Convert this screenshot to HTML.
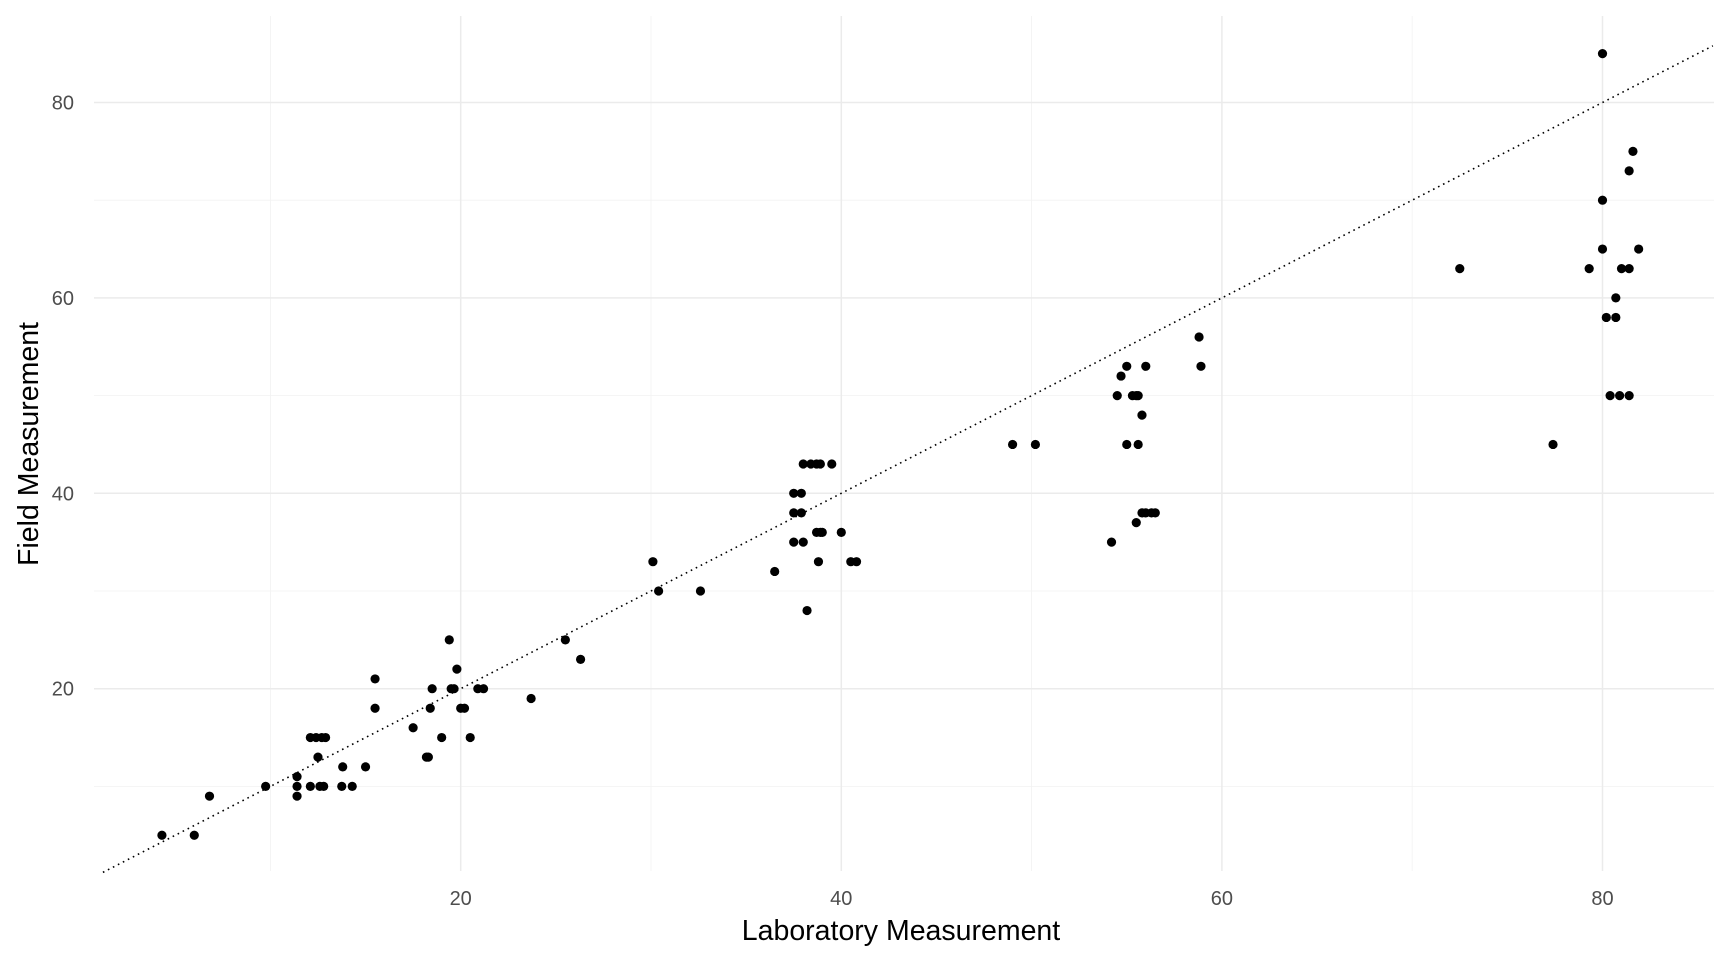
<!DOCTYPE html>
<html><head><meta charset="utf-8"><style>
html,body{margin:0;padding:0;background:#fff;}
svg{display:block;font-family:"Liberation Sans",sans-serif;}
</style></head><body>
<svg id="chart" width="1728" height="960"></svg>
<script>
const xs=[4.3,6.0,6.8,9.75,11.4,11.4,11.4,12.1,12.4,12.7,12.9,12.1,12.6,12.8,12.5,13.8,13.75,14.3,15.0,15.5,15.5,17.5,18.2,18.3,18.4,18.5,19.0,19.4,19.5,19.65,19.8,20.0,20.2,20.5,20.9,21.2,23.7,25.5,26.3,30.1,30.4,32.6,36.5,37.5,37.9,37.5,37.9,37.5,38.0,38.2,38.0,38.4,38.7,38.9,39.5,38.7,38.9,39.0,38.8,40.0,40.5,40.8,49.0,50.2,54.2,54.5,54.7,55.0,55.0,55.3,55.5,55.6,55.6,55.5,55.8,55.8,56.0,56.3,56.5,56.0,58.8,58.9,72.5,77.4,79.3,80.0,80.0,80.0,80.2,80.7,80.7,80.4,80.9,81.4,81.0,81.4,81.4,81.6,81.9];
const ys=[5,5,9,10,9,10,11,15,15,15,15,10,10,10,13,12,10,10,12,21,18,16,13,13,18,20,15,25,20,20,22,18,18,15,20,20,19,25,23,33,30,30,32,40,40,38,38,35,35,28,43,43,43,43,43,36,36,36,33,36,33,33,45,45,35,50,52,53,45,50,50,50,45,37,48,38,38,38,38,53,56,53,63,45,63,85,70,65,58,58,60,50,50,50,63,63,73,75,65];
const xTicks=[20,40,60,80], yTicks=[20,40,60,80];
const xMinor=[10,30,50,70], yMinor=[10,30,50,70];
const X=v=>80.1+(v)*19.03, Y=v=>102.5+(80-v)*9.77;
const L=94,R=1714,T=16,B=871;
const svg=document.getElementById('chart');const NS='http://www.w3.org/2000/svg';
function mk(t,a,p){const e=document.createElementNS(NS,t);for(const k in a)e.setAttribute(k,a[k]);(p||svg).appendChild(e);return e;}
xMinor.forEach(v=>{const e=mk('line',{x1:X(v),x2:X(v),y1:T,y2:B,stroke:'#f2f2f2','stroke-width':0.8});

});
yMinor.forEach(v=>{const e=mk('line',{x1:L,x2:R,y1:Y(v),y2:Y(v),stroke:'#f2f2f2','stroke-width':0.8});

});
xTicks.forEach(v=>{const e=mk('line',{x1:X(v),x2:X(v),y1:T,y2:B,stroke:'#ebebeb','stroke-width':1.5});


const t=mk('text',{x:X(v),y:905,'text-anchor':'middle','font-size':20,fill:'#4d4d4d'});t.textContent=v;

});
yTicks.forEach(v=>{const e=mk('line',{x1:L,x2:R,y1:Y(v),y2:Y(v),stroke:'#ebebeb','stroke-width':1.5});


const t=mk('text',{x:74,y:Y(v)+7,'text-anchor':'end','font-size':20,fill:'#4d4d4d'});t.textContent=v;

});
const ref=mk('line',{x1:X(1.2),y1:Y(1.2),x2:X(85.8),y2:Y(85.8),stroke:'#000','stroke-width':1.6,'stroke-dasharray':'1.6 4'});


xs.forEach((v,i)=>{const c=mk('circle',{cx:X(v),cy:Y(ys[i]),r:4.6,fill:'#000'});

});
const xt=mk('text',{x:901,y:940,'text-anchor':'middle','font-size':28.5,fill:'#000'});xt.textContent='Laboratory Measurement';


const yt=mk('text',{x:0,y:0,'text-anchor':'middle','font-size':28.5,fill:'#000',transform:'translate(38,444) rotate(-90)'});yt.textContent='Field Measurement';


</script>
</body></html>
